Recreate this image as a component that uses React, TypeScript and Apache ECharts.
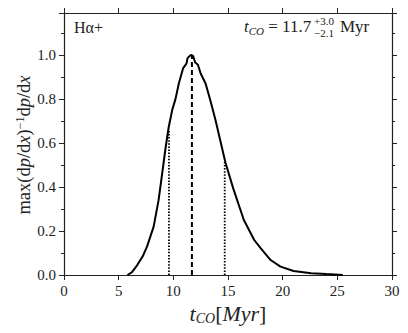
import React, { useEffect, useRef } from "react";
import * as echarts from "echarts";

const tValues = [5.8, 6.2, 6.7, 7.2, 7.6, 8.2, 8.65, 8.95, 9.27, 9.57, 9.9, 10.2, 10.5, 10.9, 11.2, 11.3, 11.6, 11.8, 12.0, 12.25, 12.5, 12.95, 13.4, 13.85, 14.3, 14.77, 15.5, 16.45, 17.4, 18.0, 18.9, 19.8, 21.0, 22.6, 24.0, 25.5];
const density = [0, 0.012, 0.045, 0.085, 0.13, 0.22, 0.34, 0.45, 0.57, 0.67, 0.75, 0.8, 0.87, 0.94, 0.96, 0.985, 1.0, 0.995, 0.965, 0.955, 0.915, 0.87, 0.79, 0.705, 0.61, 0.51, 0.39, 0.25, 0.159, 0.121, 0.068, 0.038, 0.018, 0.008, 0.004, 0];
const markerT = [9.6, 11.7, 14.7];
const markerTop = [0.66, 0.997, 0.515];
const markerKind = ["dotted", "dashed", "dotted"];

const SERIF = "Liberation Serif";

export default function App() {
  const ref = useRef<HTMLDivElement>(null);
  useEffect(() => {
    const chart = echarts.init(ref.current!, null, { renderer: "svg" });
    const axisCommon = {
      axisLine: { show: true, onZero: false, lineStyle: { color: "#222", width: 1.2 } },
      splitLine: { show: false },
    };
    const markerSeries = markerT.map((t, i) => ({
      type: "line",
      data: [[t, 0], [t, markerTop[i]]],
      showSymbol: false,
      silent: true,
      lineStyle: markerKind[i] === "dashed"
        ? { color: "#000", width: 2, type: [5, 3] }
        : { color: "#000", width: 1.8, type: [1.5, 1.6] },
      z: 1,
    }));
    chart.setOption({
      animation: false,
      textStyle: { fontFamily: SERIF },
      grid: { left: 64, right: 16, top: 13, bottom: 58, containLabel: false },
      xAxis: [
        {
          ...axisCommon,
          type: "value",
          min: 0,
          max: 30,
          interval: 5,
          position: "bottom",
          axisTick: { show: true, length: 5, lineStyle: { color: "#222" } },
          axisLabel: { fontFamily: SERIF, fontSize: 15, color: "#222", margin: 8 },
          name: "{i|t}{s|CO}{n|[}{i|Myr}{n|]}",
          nameLocation: "middle",
          nameGap: 26,
          nameTextStyle: {
            fontFamily: SERIF,
            rich: {
              i: { fontFamily: SERIF, fontStyle: "italic", fontSize: 22, color: "#222" },
              s: { fontFamily: SERIF, fontStyle: "italic", fontSize: 14, color: "#222", padding: [10, 0, 0, 0] },
              n: { fontFamily: SERIF, fontSize: 22, color: "#222" },
            },
          },
        },
        {
          ...axisCommon,
          type: "value",
          min: 0,
          max: 30,
          interval: 5,
          position: "top",
          axisTick: { show: true, length: 5, lineStyle: { color: "#222" } },
          axisLabel: { show: false },
        },
      ],
      yAxis: [
        {
          ...axisCommon,
          type: "value",
          min: 0,
          max: 1.19,
          interval: 0.2,
          position: "left",
          axisTick: { show: true, length: 5, lineStyle: { color: "#222" } },
          minorTick: { show: true, splitNumber: 2, length: 3, lineStyle: { color: "#222" } },
          axisLabel: {
            fontFamily: SERIF,
            fontSize: 15,
            color: "#222",
            margin: 8,
            formatter: (v: number) => (v > 1.05 ? "" : v.toFixed(1)),
          },
        },
        {
          ...axisCommon,
          type: "value",
          min: 0,
          max: 1.19,
          interval: 0.2,
          position: "right",
          axisTick: { show: true, length: 5, lineStyle: { color: "#222" } },
          minorTick: { show: true, splitNumber: 2, length: 3, lineStyle: { color: "#222" } },
          axisLabel: { show: false },
        },
      ],
      series: [
        {
          type: "line",
          data: tValues.map((t, i) => [t, density[i]]),
          showSymbol: false,
          silent: true,
          lineStyle: { color: "#000", width: 2 },
          z: 3,
        },
        ...markerSeries,
      ],
      graphic: [
        {
          type: "text",
          x: 24,
          y: 145,
          rotation: Math.PI / 2,
          style: {
            text: "{n|max(d}{i|p}{n|/d}{i|x}{n|)}{sup|−1}{n|d}{i|p}{n|/d}{i|x}",
            align: "center",
            verticalAlign: "middle",
            rich: {
              i: { fontFamily: SERIF, fontStyle: "italic", fontSize: 18.5, fill: "#222" },
              n: { fontFamily: SERIF, fontSize: 18.5, fill: "#222" },
              sup: { fontFamily: SERIF, fontSize: 12, fill: "#222", padding: [0, 0, 9, 0] },
            },
          },
        },
        {
          type: "text",
          left: 74,
          top: 19,
          style: { text: "Hα+", fontFamily: SERIF, fontSize: 16, fill: "#222" },
        },
        {
          type: "text",
          left: 244,
          top: 18,
          style: {
            text: "{i|t}{s|CO}{n| = 11.7}",
            rich: {
              i: { fontFamily: SERIF, fontStyle: "italic", fontSize: 17, fill: "#222" },
              s: { fontFamily: SERIF, fontStyle: "italic", fontSize: 11, fill: "#222", padding: [8, 0, 0, 0] },
              n: { fontFamily: SERIF, fontSize: 17, fill: "#222" },
            },
          },
        },
        {
          type: "text",
          left: 314,
          top: 15,
          style: { text: "+3.0", fontFamily: SERIF, fontSize: 11, fill: "#222" },
        },
        {
          type: "text",
          left: 314,
          top: 27,
          style: { text: "−2.1", fontFamily: SERIF, fontSize: 11, fill: "#222" },
        },
        {
          type: "text",
          left: 340,
          top: 18,
          style: { text: "Myr", fontFamily: SERIF, fontSize: 17, fill: "#222" },
        },
      ],
    });
    return () => chart.dispose();
  }, []);
  return (
    <div
      ref={ref}
      style={{ position: "fixed", left: 0, top: 0, width: 408, height: 333, background: "#fff" }}
    />
  );
}
